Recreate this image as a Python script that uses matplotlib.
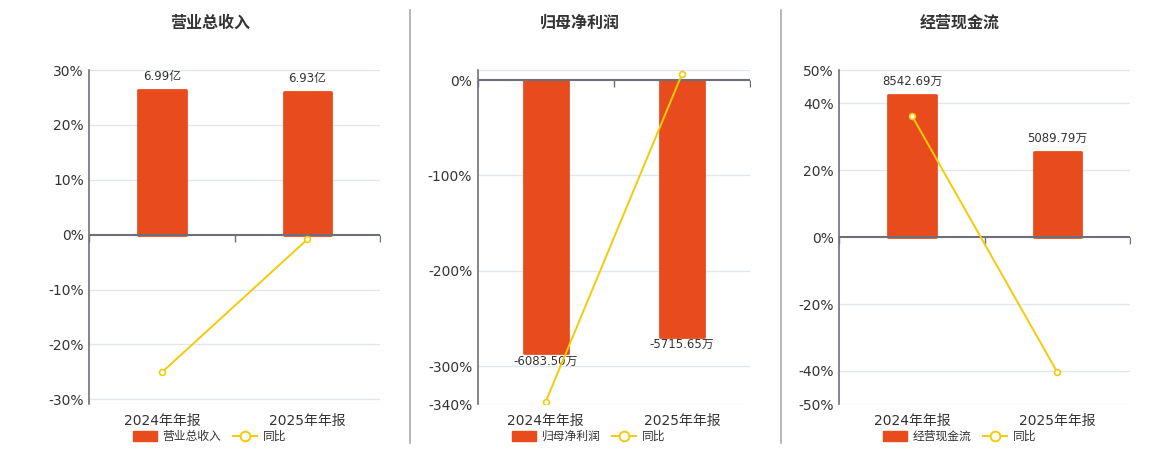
import matplotlib
matplotlib.use("Agg")
import matplotlib.pyplot as plt
from matplotlib.lines import Line2D
from matplotlib.patches import Patch

plt.rcParams['font.family'] = ['DejaVu Sans', 'Noto Sans CJK SC']

categories = ["2024年年报", "2025年年报"]

titles = ["营业总收入", "归母净利润", "经营现金流"]
bar_names = ["营业总收入", "归母净利润", "经营现金流"]

revenue_values = [6.99, 6.93]          # 亿
revenue_labels = ["6.99亿", "6.93亿"]
revenue_yoy = [-25.06, -0.86]          # %

profit_values = [-6083.50, -5715.65]   # 万
profit_labels = ["-6083.50万", "-5715.65万"]
profit_yoy = [-337.2, 6.05]            # %

cash_values = [8542.69, 5089.79]       # 万
cash_labels = ["8542.69万", "5089.79万"]
cash_yoy = [36.3, -40.42]              # %

pct_limits = [(-30.9, 30), (-340, 10.5), (-50, 50)]
pct_ticks = [[-30, -20, -10, 0, 10, 20, 30],
             [-340, -300, -200, -100, 0],
             [-50, -40, -20, 0, 20, 40, 50]]
bar_scale = [6.99 / 26.3, 6083.50 / 286.5, 8542.69 / 42.6]

BAR = "#E84C1D"
LINE = "#F2CB0A"
AXC = "#6E7079"
GRID = "#E0E6F1"
TXT = "#333333"

fig = plt.figure(figsize=(11.6, 4.5), dpi=100)
W, H = 1160, 450
lefts = [89.3, 477.7, 839.3]
widths = [290.7, 272.3, 290.7]
top_px, bot_px = 70, 404.3

datasets = [(revenue_values, revenue_labels, revenue_yoy),
            (profit_values, profit_labels, profit_yoy),
            (cash_values, cash_labels, cash_yoy)]
title_x = [210, 580, 960]

for i in range(3):
    vals, labs, yoy = datasets[i]
    ax = fig.add_axes([lefts[i] / W, (H - bot_px) / H, widths[i] / W, (bot_px - top_px) / H])
    ax2 = ax.twinx()
    ax.set_zorder(ax2.get_zorder() + 1)
    ax.patch.set_visible(False)
    lo, hi = pct_limits[i]
    ax.set_ylim(lo, hi)
    ax2.set_ylim(lo * bar_scale[i], hi * bar_scale[i])
    ax.set_xlim(-0.5, 1.5)
    ax2.set_xlim(-0.5, 1.5)
    x = list(range(len(categories)))

    ax2.bar(x, vals, width=0.325, color=BAR, edgecolor=BAR, linewidth=2.0,
            joinstyle='round', zorder=2)
    for xi, v, lab in zip(x, vals, labs):
        if v >= 0:
            ax2.annotate(lab, (xi, v), xytext=(0, 5), textcoords='offset points',
                         ha='center', va='bottom', fontsize=8.5, color=TXT)
        else:
            ax2.annotate(lab, (xi, v), xytext=(0, -1), textcoords='offset points',
                         ha='center', va='top', fontsize=8.5, color=TXT)

    ax.plot(x, yoy, color=LINE, lw=1.4, marker='o', markersize=4.2,
            markerfacecolor='white', markeredgecolor=LINE, markeredgewidth=1.2, zorder=5)

    grid_levels = sorted(set(pct_ticks[i] + [lo, hi]))
    for t in grid_levels:
        if t != 0:
            ax2.axhline(t * bar_scale[i], color=GRID, lw=0.9, zorder=0)
    ax.axhline(0, color=AXC, lw=1.5, zorder=4)
    ax.plot([-0.5, 0.5, 1.5], [0, 0, 0], linestyle='none', marker=3, markersize=5,
            markeredgewidth=1, color=AXC, zorder=4)

    ax.set_yticks(pct_ticks[i])
    ax.set_yticklabels([f"{t}%" for t in pct_ticks[i]])
    ax.set_xticks(x)
    ax.set_xticklabels(categories)
    ax.tick_params(axis='y', length=0, labelsize=10, labelcolor=TXT, pad=4)
    ax.tick_params(axis='x', length=0, labelsize=10, labelcolor=TXT, pad=7)
    ax2.set_yticks([])
    for a in (ax, ax2):
        for s in ['top', 'right', 'bottom', 'left']:
            a.spines[s].set_visible(False)
    ax.spines['left'].set_visible(True)
    ax.spines['left'].set_color(AXC)
    ax.spines['left'].set_linewidth(1.2)

    fig.text(title_x[i] / W, 1 - 23 / H, titles[i], ha='center', va='center',
             fontsize=11.5, fontweight='bold', color=TXT)

    handles = [Patch(facecolor=BAR, edgecolor=BAR, label=bar_names[i]),
               Line2D([0], [0], color=LINE, lw=1.4, marker='o', markersize=7,
                      markerfacecolor='white', markeredgecolor=LINE, markeredgewidth=1.4,
                      label="同比")]
    cx = (lefts[i] + widths[i] / 2 - 25) / W
    fig.legend(handles=handles, loc='center', bbox_to_anchor=(cx, 1 - 436.5 / H),
               ncol=2, frameon=False, fontsize=8.5, handlelength=2.0, handleheight=0.9,
               columnspacing=1.0, handletextpad=0.5, labelcolor=TXT)

for sx in [410, 781]:
    fig.add_artist(Line2D([sx / W, sx / W], [1 - 10 / H, 1 - 443 / H], color="#AAAAAA", lw=1.2))

fig.savefig("out.png", dpi=100)
